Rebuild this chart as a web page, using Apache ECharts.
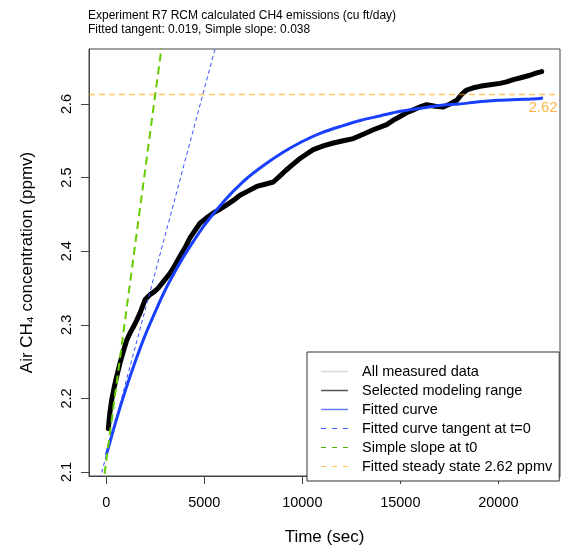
<!DOCTYPE html>
<html>
<head>
<meta charset="utf-8">
<script src="https://cdn.jsdelivr.net/npm/echarts@6/dist/echarts.min.js"></script>
<style>
html,body{margin:0;padding:0;background:#fff;}
#chart{width:562px;height:553px;}
</style>
</head>
<body>
<div id="chart"></div>
<script>
// ---- data ----
var titleLines = ["Experiment R7 RCM calculated CH4 emissions (cu ft/day)", "Fitted tangent: 0.019, Simple slope: 0.038"];
var xTicks = [0, 5000, 10000, 15000, 20000];
var yTicks = [2.1, 2.2, 2.3, 2.4, 2.5, 2.6];
var xRange = [-883, 23148];
var yRange = [2.0946, 2.6747];

// measured concentration (centre of the noisy trace): [time sec, ppmv]
var measured = [
  [102, 2.159], [180, 2.180], [276, 2.198], [400, 2.215], [531, 2.230], [699, 2.248],
  [870, 2.264], [1041, 2.279], [1210, 2.289], [1378, 2.297], [1550, 2.306], [1719, 2.316],
  [1974, 2.334], [2230, 2.341], [2450, 2.345], [2653, 2.350], [2950, 2.360],
  [3250, 2.370], [3500, 2.381], [3760, 2.393], [4020, 2.405], [4270, 2.418], [4520, 2.428],
  [4781, 2.438], [5100, 2.445], [5459, 2.452], [5800, 2.457],
  [6143, 2.463], [6480, 2.469], [6821, 2.476], [7250, 2.482], [7673, 2.488], [8100, 2.491],
  [8520, 2.494], [8850, 2.502], [9168, 2.510], [9520, 2.518],
  [9883, 2.526], [10220, 2.532], [10561, 2.538], [11070, 2.543], [11582, 2.547],
  [12090, 2.550], [12602, 2.553], [13110, 2.559], [13622, 2.565],
  [14306, 2.572], [14650, 2.578], [14985, 2.583], [15320, 2.588], [15663, 2.592],
  [16000, 2.596], [16347, 2.599], [16770, 2.597], [17194, 2.596], [17540, 2.600],
  [17878, 2.605], [18130, 2.613], [18388, 2.619], [18730, 2.622], [19066, 2.624],
  [19580, 2.626], [20087, 2.628], [20420, 2.630], [20765, 2.633], [21190, 2.636],
  [21617, 2.639], [21920, 2.642], [22214, 2.644]
];

// fitted exponential curve: [time sec, ppmv]
var fitted = [
  [0, 2.123], [500, 2.170], [1000, 2.213], [1500, 2.252], [2000, 2.287],
  [2500, 2.318], [3000, 2.347], [3500, 2.372], [4000, 2.395], [5000, 2.435],
  [6000, 2.468], [7000, 2.495], [8000, 2.516], [9000, 2.534], [10000, 2.549],
  [11000, 2.561], [12000, 2.570], [13000, 2.578], [14000, 2.584], [15000, 2.590],
  [16000, 2.594], [17000, 2.598], [18000, 2.600], [19000, 2.603], [20000, 2.605],
  [21000, 2.606], [22000, 2.607], [22280, 2.608]
];

// straight reference lines: [time sec, ppmv] end points
var tangentLine = [[-883, 2.035], [6000, 2.720]];
var slopeLine = [[-883, 1.940], [3000, 2.713]];
var steadyLine = [[-883, 2.613], [23148, 2.613]];
var steadyLabelPoint = [[22280, 2.613]];
var steadyLabelText = "2.62";

var legendNames = ["All measured data", "Selected modeling range", "Fitted curve",
  "Fitted curve tangent at t=0", "Simple slope at t0", "Fitted steady state 2.62 ppmv"];

// ---- styles ----
var FONT = "'Liberation Sans', Arial, Helvetica, sans-serif";
var colors = ['#d3d3d3', '#000000', '#1a40ff', '#3850ff', '#66cc00', 'rgba(255,165,0,0.6)'];
var legendColors = ['#d8d8d8', '#555555', '#6b7cff', '#4a5cff', '#4caf00', '#ffc060'];
var SOLID_ICON = 'rect';
var DASH_ICON = 'path://M0,0h5v1h-5z M11,0h5v1h-5z M22,0h5v1h-5z';
var legendIcons = [SOLID_ICON, SOLID_ICON, SOLID_ICON, DASH_ICON, DASH_ICON, DASH_ICON];

var legendData = legendNames.map(function (n, i) {
  return {name: n, icon: legendIcons[i],
    itemStyle: {color: legendColors[i], borderWidth: 0, opacity: 1}};
});

var chart = echarts.init(document.getElementById('chart'), null, {renderer: 'canvas'});
var option = {
  animation: false,
  backgroundColor: '#ffffff',
  textStyle: {fontFamily: FONT},
  title: {
    text: titleLines.join('\n'),
    left: 83, top: 4,
    textStyle: {fontFamily: FONT, fontSize: 12, fontWeight: 'normal', color: '#000', lineHeight: 13.5}
  },
  grid: {
    left: 89, top: 49, right: 2, bottom: 77,
    show: true, borderColor: '#444', borderWidth: 1, backgroundColor: 'transparent'
  },
  legend: {
    orient: 'vertical',
    left: 307, top: 352,
    data: legendData,
    itemWidth: 27, itemHeight: 1.5, itemGap: 4,
    padding: [12, 7, 7, 14],
    borderColor: '#333', borderWidth: 1, borderRadius: 0,
    backgroundColor: '#fff',
    selectedMode: false,
    textStyle: {fontFamily: FONT, fontSize: 14.5, color: '#000', lineHeight: 14, padding: [0, 0, 0, 9]}
  },
  xAxis: {
    type: 'value', min: xRange[0], max: xRange[1],
    name: 'Time (sec)', nameLocation: 'middle', nameGap: 53,
    nameTextStyle: {fontFamily: FONT, fontSize: 17, color: '#000'},
    axisLine: {show: true, onZero: false, lineStyle: {color: '#444'}},
    splitLine: {show: false},
    axisTick: {show: true, customValues: xTicks, length: 8, lineStyle: {color: '#444'}},
    axisLabel: {customValues: xTicks, margin: 19, fontFamily: FONT, fontSize: 14.5, color: '#000',
      formatter: function (v) { return String(v); }}
  },
  yAxis: {
    type: 'value', min: yRange[0], max: yRange[1],
    name: 'Air CH\u2084 concentration (ppmv)', nameLocation: 'middle', nameGap: 53,
    nameTextStyle: {fontFamily: FONT, fontSize: 17, color: '#000'},
    axisLine: {show: true, onZero: false, lineStyle: {color: '#444'}},
    splitLine: {show: false},
    axisTick: {show: true, customValues: yTicks, length: 8, lineStyle: {color: '#444'}},
    axisLabel: {customValues: yTicks, rotate: 90, margin: 15, fontFamily: FONT, fontSize: 14.5, color: '#000',
      formatter: function (v) { return v.toFixed(1); }}
  },
  series: [
    {name: legendNames[0], type: 'line', data: measured, symbol: 'none', showSymbol: false,
      lineStyle: {color: colors[0], width: 1}, itemStyle: {color: colors[0]}, z: 1},
    {name: legendNames[1], type: 'line', data: measured, symbol: 'none', showSymbol: false,
      lineStyle: {color: colors[1], width: 5, join: 'round', cap: 'round'}, itemStyle: {color: colors[1]}, z: 2},
    {name: legendNames[2], type: 'line', data: fitted, symbol: 'none', showSymbol: false, smooth: 0.3,
      lineStyle: {color: colors[2], width: 3}, itemStyle: {color: colors[2]}, z: 3},
    {name: legendNames[3], type: 'line', data: tangentLine, symbol: 'none', showSymbol: false,
      lineStyle: {color: colors[3], width: 1, type: [4, 3]}, itemStyle: {color: colors[3]}, z: 4},
    {name: legendNames[4], type: 'line', data: slopeLine, symbol: 'none', showSymbol: false,
      lineStyle: {color: colors[4], width: 2, type: [8, 5]}, itemStyle: {color: colors[4]}, z: 4},
    {name: legendNames[5], type: 'line', data: steadyLine, symbol: 'none', showSymbol: false,
      lineStyle: {color: colors[5], width: 1.5, type: [6, 4]}, itemStyle: {color: colors[5]}, z: 4},
    {name: 'steadyLabel', type: 'scatter', data: steadyLabelPoint, symbolSize: 0, z: 5,
      label: {show: true, position: 'bottom', distance: 6, formatter: function () { return steadyLabelText; },
        fontFamily: FONT, fontSize: 15, color: '#ffa31a'}}
  ]
};
chart.setOption(option);
</script>
</body>
</html>
